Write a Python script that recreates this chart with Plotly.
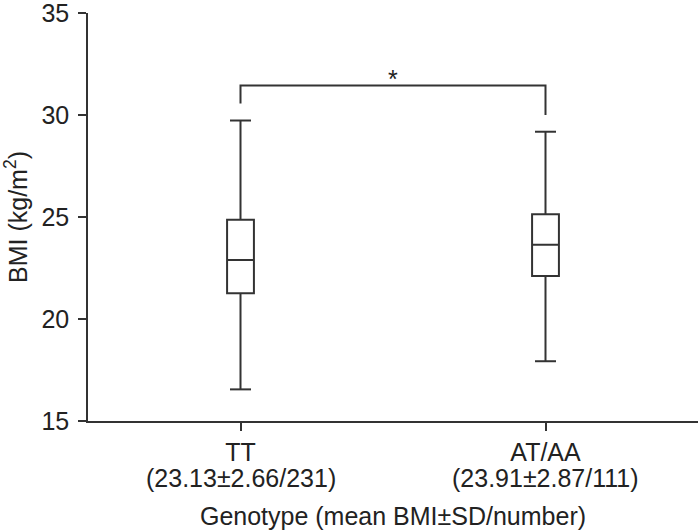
import plotly.graph_objects as go

# box statistics
genotypes = ["TT", "AT/AA"]
stat_labels = ["(23.13±2.66/231)", "(23.91±2.87/111)"]
lower = [16.55, 17.93]
q1 = [21.26, 22.11]
median = [22.89, 23.64]
q3 = [24.86, 25.14]
upper = [29.73, 29.18]

# significance bracket
bracket_x = [0, 0, 1, 1]
bracket_y = [30.56, 31.44, 31.44, 30.0]
star_y = 31.75

line_col = "#333333"
txt_col = "#222222"
fam = "Liberation Sans, Arial, sans-serif"
fsize = 25

pos = list(range(len(genotypes)))

fig = go.Figure()

fig.add_trace(go.Box(
    x=pos,
    q1=q1, median=median, q3=q3,
    lowerfence=lower, upperfence=upper,
    width=0.088,
    fillcolor="white",
    line=dict(color=line_col, width=2),
    whiskerwidth=0,
    boxpoints=False,
    showlegend=False,
    hoverinfo="skip",
))

# whisker caps
fig.add_trace(go.Scatter(
    x=pos + pos, y=lower + upper,
    mode="markers",
    marker=dict(symbol="line-ew", size=15, line=dict(color=line_col, width=2)),
    showlegend=False, hoverinfo="skip",
))

fig.add_trace(go.Scatter(
    x=bracket_x, y=bracket_y,
    mode="lines",
    line=dict(color=line_col, width=2),
    showlegend=False, hoverinfo="skip",
))

fig.add_annotation(x=0.5, y=star_y, text="*", showarrow=False,
                   font=dict(family=fam, size=25, color=txt_col))

# second line of the category labels (mean±SD/n)
for p, s in zip(pos, stat_labels):
    fig.add_annotation(x=p, xref="x", y=0, yref="paper", text=s,
                       showarrow=False, yanchor="middle", yshift=-57,
                       font=dict(family=fam, size=fsize, color=txt_col))

fig.update_layout(
    width=700, height=530,
    margin=dict(l=88, r=2, t=13, b=109),
    plot_bgcolor="white", paper_bgcolor="white",
    font=dict(family=fam, size=fsize, color=txt_col),
    xaxis=dict(
        range=[-0.5, 1.5],
        tickmode="array", tickvals=pos, ticktext=genotypes,
        tickfont=dict(family=fam, size=fsize, color=txt_col),
        tickson="boundaries",
        ticks="outside", ticklen=8, tickwidth=1.5, tickcolor=line_col,
        showline=True, linecolor=line_col, linewidth=1.5,
        showgrid=False, zeroline=False, automargin=False,
        ticklabeloverflow="allow",
        title=dict(text="Genotype (mean BMI±SD/number)", standoff=46,
                   font=dict(family=fam, size=fsize, color=txt_col)),
    ),
    yaxis=dict(
        range=[15, 35],
        tickmode="array", tickvals=[15, 20, 25, 30, 35],
        tickfont=dict(family=fam, size=fsize, color=txt_col),
        ticks="outside", ticklen=8, tickwidth=1.5, tickcolor=line_col,
        ticklabelstandoff=4, ticklabeloverflow="allow",
        showline=True, linecolor=line_col, linewidth=1.5,
        showgrid=False, zeroline=False, automargin=False,
        title=dict(text="BMI (kg/m<sup>2</sup>)", standoff=10,
                   font=dict(family=fam, size=fsize, color=txt_col)),
    ),
)

fig.write_html("out.html", config={"displayModeBar": False},
               post_script="document.body.style.margin='0';")
